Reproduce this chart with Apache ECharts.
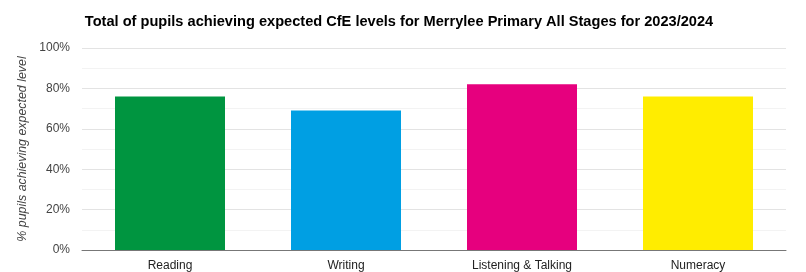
<!DOCTYPE html>
<html>
<head>
<meta charset="utf-8">
<script src="https://cdn.jsdelivr.net/npm/echarts@6/dist/echarts.min.js"></script>
<style>
  html, body { margin: 0; padding: 0; background: #fff; }
  #chart { width: 806px; height: 272px; }
</style>
</head>
<body>
<div id="chart"></div>
<script>
const categories = ['Reading', 'Writing', 'Listening & Talking', 'Numeracy']
const values = [76, 69, 82, 76]
const barColors = ['#009540', '#009fe3', '#e6007e', '#ffed00']
const yTicks = [0, 20, 40, 60, 80, 100]

const chart = echarts.init(document.getElementById('chart'))

const option = {
  animation: false,
  textStyle: { fontFamily: 'Liberation Sans, Arial, sans-serif' },
  title: {
    text: 'Total of pupils achieving expected CfE levels for Merrylee Primary All Stages for 2023/2024',
    left: 394,
    top: 9,
    textAlign: 'center',
    textStyle: { fontSize: 14.6, fontWeight: 'bold', color: '#000' }
  },
  grid: { left: 82, right: 20, top: 48, bottom: 21 },
  xAxis: {
    type: 'category',
    data: categories,
    axisLine: { lineStyle: { color: '#777', width: 1 } },
    axisTick: { show: false },
    axisLabel: { color: '#222', fontSize: 12, margin: 10 }
  },
  yAxis: {
    type: 'value',
    min: yTicks[0],
    max: yTicks[yTicks.length - 1],
    interval: 20,
    name: '% pupils achieving expected level',
    nameLocation: 'middle',
    nameGap: 52,
    nameTextStyle: { fontStyle: 'italic', fontSize: 12.4, color: '#444' },
    axisLine: { show: false },
    axisTick: { show: false },
    axisLabel: { formatter: '{value}%', color: '#444', fontSize: 12, margin: 12 },
    splitLine: { lineStyle: { color: '#e3e3e3' } },
    minorTick: { show: false, splitNumber: 2 },
    minorSplitLine: { show: true, lineStyle: { color: '#f3f3f3' } }
  },
  series: [
    {
      type: 'bar',
      barWidth: 110,
      data: values.map((v, i) => ({
        value: v,
        itemStyle: { color: barColors[i] }
      }))
    }
  ]
}

chart.setOption(option)
</script>
</body>
</html>
